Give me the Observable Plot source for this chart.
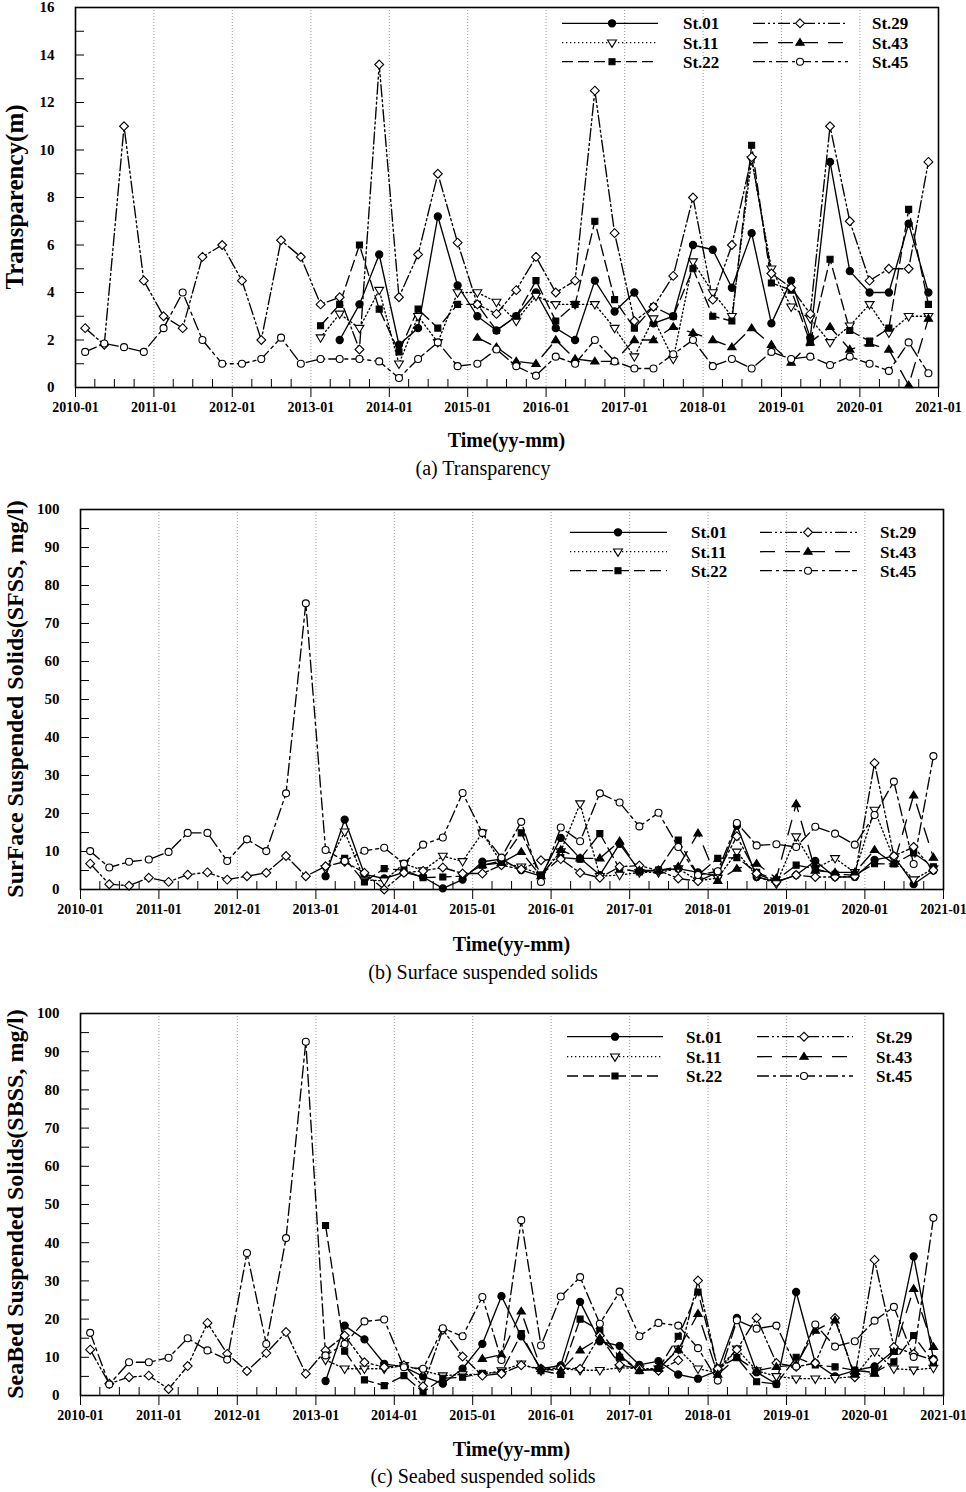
<!DOCTYPE html>
<html><head><meta charset="utf-8">
<script src="https://cdn.jsdelivr.net/npm/d3@7"></script>
<script src="https://cdn.jsdelivr.net/npm/@observablehq/plot@0.6"></script>
<style>
html,body{margin:0;padding:0;background:#fff;}
body{width:966px;height:1492px;position:relative;overflow:hidden;font-family:"Liberation Serif","Times New Roman",serif;}
.panel{position:absolute;left:0;}
.panel svg{font-family:"Liberation Serif","Times New Roman",serif;}
#overlay{position:absolute;left:0;top:0;pointer-events:none;}
</style>
</head><body>
<div id="pa" class="panel" style="top:0px"></div>
<div id="pb" class="panel" style="top:490px"></div>
<div id="pc" class="panel" style="top:995px"></div>
<svg id="overlay" width="966" height="1492"></svg>
<script>
// ---------- data ----------
const stations = ["St.01", "St.11", "St.22", "St.29", "St.43", "St.45"];
const years = [2010, 2011, 2012, 2013, 2014, 2015, 2016, 2017, 2018, 2019, 2020];
const sampleMonths = [1, 4, 7, 10]; // Feb, May, Aug, Nov (zero based)
const dates = years.flatMap(y => sampleMonths.map(m => new Date(Date.UTC(y, m, 15))));
const N = null;

// (a) Transparency (m)
const a_st01 = [N,N,N,N,N,N,N,N,N,N,N,N,N, 2.0,3.5,5.6,1.8,2.5,7.2,4.3,3.0,2.4,3.0,4.0,2.5,2.0,4.5,3.2,4.0,2.7,3.0,6.0,5.8,4.2,6.5,2.7,4.5,2.1,9.5,4.9,4.0,4.0,6.9,4.0];
const a_st11 = [N,N,N,N,N,N,N,N,N,N,N,N, 2.1,3.1,2.5,4.1,1.0,3.0,1.9,4.0,4.0,3.6,2.8,3.85,3.5,3.5,3.5,2.5,1.3,2.9,1.2,5.3,4.0,3.0,9.6,5.0,3.4,2.9,1.9,2.6,3.5,2.3,3.0,3.0];
const a_st22 = [N,N,N,N,N,N,N,N,N,N,N,N, 2.6,3.5,6.0,3.3,1.5,3.3,2.5,3.5,3.5,2.4,3.0,4.5,2.8,3.5,7.0,3.7,2.5,3.4,3.0,5.0,3.0,2.8,10.2,4.4,4.1,1.9,5.4,2.4,1.95,2.5,7.5,3.5];
const a_st29 = [2.5,1.8,11.0,4.5,3.0,2.5,5.5,6.0,4.5,2.0,6.2,5.5,3.5,3.8,1.6,13.6,3.8,5.6,9.0,6.1,3.5,3.1,4.1,5.5,4.0,4.5,12.5,6.5,2.8,3.4,4.7,8.0,3.7,6.0,9.7,4.8,4.2,3.1,11.0,7.0,4.5,5.0,5.0,9.5];
const a_st43 = [N,N,N,N,N,N,N,N,N,N,N,N,N,N,N,N,N,N,N,N, 2.1,1.7,1.1,1.0,2.0,1.2,1.1,1.1,2.0,2.0,2.55,2.3,2.0,1.7,2.5,1.8,1.05,1.9,2.55,1.6,1.85,1.6,0.1,2.9];
const a_st45 = [1.5,1.85,1.7,1.5,2.5,4.0,2.0,1.0,1.0,1.2,2.1,1.0,1.2,1.2,1.2,1.1,0.4,1.2,1.9,0.9,1.0,1.6,0.9,0.5,1.3,1.0,2.0,1.1,0.8,0.8,1.4,2.0,0.9,1.2,0.8,1.5,1.2,1.3,0.95,1.3,1.0,0.7,1.9,0.6];

// (b) Surface suspended solids (mg/l)
const b_st01 = [N,N,N,N,N,N,N,N,N,N,N,N, 3.5,18.4,4.0,2.9,4.5,3.3,0.3,2.6,7.3,8.0,5.1,3.5,13.6,8.2,3.8,12.0,5.0,5.0,5.5,4.5,3.5,16.8,3.3,2.0,3.8,7.5,3.3,3.3,7.8,8.8,1.4,5.0];
const b_st11 = [N,N,N,N,N,N,N,N,N,N,N,N, 5.5,15.2,2.5,2.3,6.8,5.0,8.8,7.4,14.9,7.0,6.0,3.8,10.0,22.6,3.5,3.8,4.5,4.5,5.5,2.3,3.0,9.9,3.5,1.5,13.9,5.5,8.2,4.5,20.9,8.0,2.6,5.5];
const b_st22 = [N,N,N,N,N,N,N,N,N,N,N,N,N, 8.2,2.0,5.5,5.1,3.1,3.3,3.5,6.4,7.5,14.9,3.8,8.4,8.0,14.7,5.5,4.6,5.1,13.0,3.8,8.2,8.4,4.5,2.5,6.4,5.5,4.0,3.8,6.8,6.7,9.6,6.0];
const b_st29 = [6.8,1.4,1.0,3.1,2.0,3.9,4.5,2.6,3.5,4.4,8.8,3.5,6.1,7.3,4.4,0.0,4.4,4.9,5.8,4.2,4.2,6.4,5.3,7.7,8.0,4.4,3.1,6.0,6.3,5.0,2.9,2.2,4.5,14.0,4.2,2.0,3.8,3.3,3.3,3.5,33.3,8.8,11.2,5.1];
const b_st43 = [N,N,N,N,N,N,N,N,N,N,N,N,N,N,N,N,N,N,N,N, 6.4,7.0,9.9,3.5,10.4,8.2,8.2,12.7,5.0,5.0,6.0,14.8,2.3,5.5,6.8,3.0,22.5,5.0,4.5,4.5,10.4,6.8,24.8,8.4];
const b_st45 = [10.1,5.8,7.3,7.9,9.9,14.9,14.9,7.5,13.2,10.1,25.3,75.3,10.4,7.5,10.2,11.0,6.8,11.8,13.7,25.4,14.9,8.4,17.8,2.0,16.3,12.7,25.3,22.9,16.6,20.2,11.2,3.8,4.8,17.5,11.6,11.9,11.2,16.5,14.7,11.8,19.6,28.4,6.7,35.1];

// (c) Seabed suspended solids (mg/l)
const c_st01 = [N,N,N,N,N,N,N,N,N,N,N,N, 3.8,18.3,14.7,8.3,7.5,5.0,3.1,7.0,13.5,26.0,15.5,7.0,7.9,24.5,14.2,13.0,8.0,9.0,5.5,4.4,6.5,20.3,6.1,3.0,27.1,8.5,5.0,6.5,7.6,11.8,36.4,9.6];
const c_st11 = [N,N,N,N,N,N,N,N,N,N,N,N, 9.3,7.0,7.0,7.0,7.9,6.5,5.2,5.5,5.5,6.5,8.3,6.5,7.0,6.6,6.6,7.3,7.0,7.0,12.2,7.0,6.0,12.2,6.5,5.0,4.4,4.4,4.5,5.0,11.5,7.0,6.7,7.2];
const c_st22 = [N,N,N,N,N,N,N,N,N,N,N,N, 44.5,11.6,4.1,2.6,5.2,0.9,4.5,4.8,5.8,6.0,16.2,6.5,5.5,20.0,17.0,10.0,6.5,7.0,15.5,27.1,7.2,9.9,3.6,3.0,10.0,8.0,7.5,6.6,6.0,8.8,15.7,8.5];
const c_st29 = [12.0,3.1,4.8,5.2,1.7,7.7,19.0,10.9,6.4,11.1,16.6,5.7,11.8,15.7,8.7,7.4,7.9,2.4,17.2,10.2,5.2,5.7,7.9,7.0,7.2,7.0,15.7,8.0,7.0,6.5,9.2,30.1,7.0,12.0,20.3,8.5,7.5,8.5,20.3,4.8,35.5,12.7,10.9,9.3];
const c_st43 = [N,N,N,N,N,N,N,N,N,N,N,N,N,N,N,N,N,N,N,N, 9.6,10.7,22.0,7.0,6.5,11.8,15.0,10.5,6.5,7.0,12.0,21.4,5.5,9.9,6.5,7.5,8.0,17.0,19.7,5.5,5.7,11.4,27.9,12.7];
const c_st45 = [16.4,2.9,8.7,8.7,9.9,15.0,11.8,9.4,37.3,13.5,41.2,92.6,10.5,13.5,19.4,19.9,7.4,7.0,17.6,15.5,25.8,9.3,45.9,13.1,25.9,31.0,18.8,27.2,15.5,19.0,18.3,12.4,3.9,19.7,17.5,18.3,7.6,18.6,12.8,14.2,19.6,23.2,10.1,46.5];

const xTickYears = [2010, 2011, 2012, 2013, 2014, 2015, 2016, 2017, 2018, 2019, 2020, 2021];
const yTicksA = [0, 2, 4, 6, 8, 10, 12, 14, 16];
const yTicksSS = [0, 10, 20, 30, 40, 50, 60, 70, 80, 90, 100];

// ---------- styles ----------
const triDown = {
  draw(ctx, size) {
    const r = Math.sqrt(size) * 0.66;
    ctx.moveTo(-r, -r * 0.62);
    ctx.lineTo(r, -r * 0.62);
    ctx.lineTo(0, r * 1.05);
    ctx.closePath();
  }
};
const triUp = {
  draw(ctx, size) {
    const r = Math.sqrt(size) * 0.62;
    ctx.moveTo(-r, r * 0.62);
    ctx.lineTo(r, r * 0.62);
    ctx.lineTo(0, -r * 1.0);
    ctx.closePath();
  }
};
const style = {
  "St.01": {dash: null, symbol: d3.symbolCircle, fill: "black", r: 3.6},
  "St.11": {dash: "1.3,2.7", symbol: triDown, fill: "white", r: 3.8},
  "St.22": {dash: "11,5", symbol: d3.symbolSquare, fill: "black", r: 3.4},
  "St.29": {dash: "12,3,2,3,2,3", symbol: d3.symbolDiamond2, fill: "white", r: 4.0},
  "St.43": {dash: "15,10", symbol: triUp, fill: "black", r: 3.8},
  "St.45": {dash: "12,4,3,4", symbol: d3.symbolCircle, fill: "white", r: 3.5}
};

const xDomain = [new Date(Date.UTC(2010, 0, 1)), new Date(Date.UTC(2021, 0, 1))];
const yearDates = xTickYears.map(y => new Date(Date.UTC(y, 0, 1)));
const gridDates = yearDates.slice(1, -1);
const quarterDates = years.flatMap(y => [3, 6, 9].map(m => new Date(Date.UTC(y, m, 1))));

function makePanel(el, cfg) {
  const rows = [];
  stations.forEach((s, k) => {
    cfg.series[k].forEach((v, i) => rows.push({station: s, date: dates[i], value: v}));
  });
  const marks = [
    Plot.gridX(gridDates, {stroke: "#9a9a9a", strokeOpacity: 1, strokeWidth: 1, strokeDasharray: "1,2"}),
    Plot.axisY({ticks: cfg.yMajor, tickSize: 0, tickPadding: 21, fontWeight: "bold", fontSize: 15, label: null, tickFormat: d => String(d)}),
    Plot.axisY({ticks: cfg.yMinor, tickSize: 9, dx: 9, fill: "none", label: null}),
    Plot.axisX({ticks: yearDates, tickSize: 10, tickPadding: 5, fontWeight: "bold", fontSize: 14, label: null, tickFormat: d3.utcFormat("%Y-%m")}),
    Plot.axisX({ticks: quarterDates, tickSize: 8, dy: -8, fill: "none", label: null}),
  ];
  stations.forEach(s => {
    const st = style[s];
    const d = rows.filter(r => r.station === s);
    marks.push(Plot.line(d, {x: "date", y: "value", stroke: "black", strokeWidth: 1.35,
      strokeDasharray: st.dash || undefined}));
  });
  stations.forEach(s => {
    const st = style[s];
    const d = rows.filter(r => r.station === s && r.value != null);
    marks.push(Plot.dot(d, {x: "date", y: "value", symbol: st.symbol, r: st.r, fill: st.fill, stroke: "black", strokeWidth: 1.1}));
  });
  marks.push(Plot.frame({stroke: "black", strokeWidth: 1.6}));
  const chart = Plot.plot({
    width: 966, height: cfg.height,
    marginTop: cfg.mt, marginBottom: cfg.mb, marginLeft: cfg.ml, marginRight: cfg.mr,
    x: {type: "utc", domain: xDomain},
    y: {domain: cfg.yDomain},
    style: {fontFamily: "'Liberation Serif','Times New Roman',serif", color: "black", background: "white", overflow: "visible"},
    marks
  });
  el.appendChild(chart);
}

const panels = [
  {el: "pa", top: 0, height: 417, mt: 7, mb: 30, ml: 75, mr: 28, yDomain: [0, 16], yMajor: yTicksA, yMinor: d3.range(0, 17, 1),
   series: [a_st01, a_st11, a_st22, a_st29, a_st43, a_st45],
   ylabel: "Transparency(m)", ylx: 14, ylsize: 25, caption: "(a) Transparency", titleY: 440, capY: 468,
   leg: {rows: [23.3, 42.7, 61.7], l: [562, 658, 612, 683], r: [753, 848, 800, 872]}},
  {el: "pb", top: 490, height: 429, mt: 19, mb: 30, ml: 80, mr: 23, yDomain: [0, 100], yMajor: yTicksSS, yMinor: d3.range(0, 101, 5),
   series: [b_st01, b_st11, b_st22, b_st29, b_st43, b_st45],
   ylabel: "SurFace Suspended Solids(SFSS, mg/l)", ylx: 15, ylsize: 24, caption: "(b) Surface suspended solids", titleY: 944, capY: 972,
   leg: {rows: [532.3, 551.7, 570.7], l: [570, 667, 618, 691], r: [760, 857, 808, 880]}},
  {el: "pc", top: 995, height: 430, mt: 18, mb: 30, ml: 80, mr: 23, yDomain: [0, 100], yMajor: yTicksSS, yMinor: d3.range(0, 101, 5),
   series: [c_st01, c_st11, c_st22, c_st29, c_st43, c_st45],
   ylabel: "SeaBed Suspended Solids(SBSS, mg/l)", ylx: 15, ylsize: 24, caption: "(c) Seabed suspended solids", titleY: 1449, capY: 1476,
   leg: {rows: [1036.7, 1056.7, 1076], l: [567, 663, 615, 686], r: [757, 853, 804, 876]}}
];

panels.forEach(p => makePanel(document.getElementById(p.el), p));

// ---------- overlay texts & legends ----------
const ov = d3.select("#overlay");
const fontFam = "'Liberation Serif','Times New Roman',serif";
panels.forEach(p => {
  const plotTop = p.top + p.mt;
  const plotBottom = p.top + p.height - p.mb;
  const plotCx = (p.ml + (966 - p.mr)) / 2;
  const cy = (plotTop + plotBottom) / 2;
  ov.append("text").attr("transform", `translate(${p.ylx},${cy}) rotate(-90)`)
    .attr("text-anchor", "middle").attr("dy", "0.35em")
    .attr("font-family", fontFam).attr("font-weight", "bold").attr("font-size", p.ylsize).text(p.ylabel);
  ov.append("text").attr("x", plotCx).attr("y", p.titleY).attr("dy", "0.35em").attr("text-anchor", "middle")
    .attr("font-family", fontFam).attr("font-weight", "bold").attr("font-size", 20).text("Time(yy-mm)");
  ov.append("text").attr("x", 483).attr("y", p.capY).attr("dy", "0.35em").attr("text-anchor", "middle")
    .attr("font-family", fontFam).attr("font-size", 20).text(p.caption);
  // legend
  stations.forEach((s, k) => {
    const col = k < 3 ? p.leg.l : p.leg.r;
    const y = p.leg.rows[k % 3];
    const st = style[s];
    const g = ov.append("g");
    g.append("line").attr("x1", col[0]).attr("x2", col[1]).attr("y1", y).attr("y2", y)
      .attr("stroke", "black").attr("stroke-width", 1.3).attr("stroke-dasharray", st.dash);
    g.append("path").attr("transform", `translate(${col[2]},${y})`)
      .attr("d", d3.symbol(st.symbol, Math.PI * st.r * st.r)())
      .attr("fill", st.fill).attr("stroke", "black").attr("stroke-width", 1.1);
    g.append("text").attr("x", col[3]).attr("y", y).attr("dy", "0.35em")
      .attr("font-family", fontFam).attr("font-weight", "bold").attr("font-size", 17).text(s);
  });
});
</script>
</body></html>
